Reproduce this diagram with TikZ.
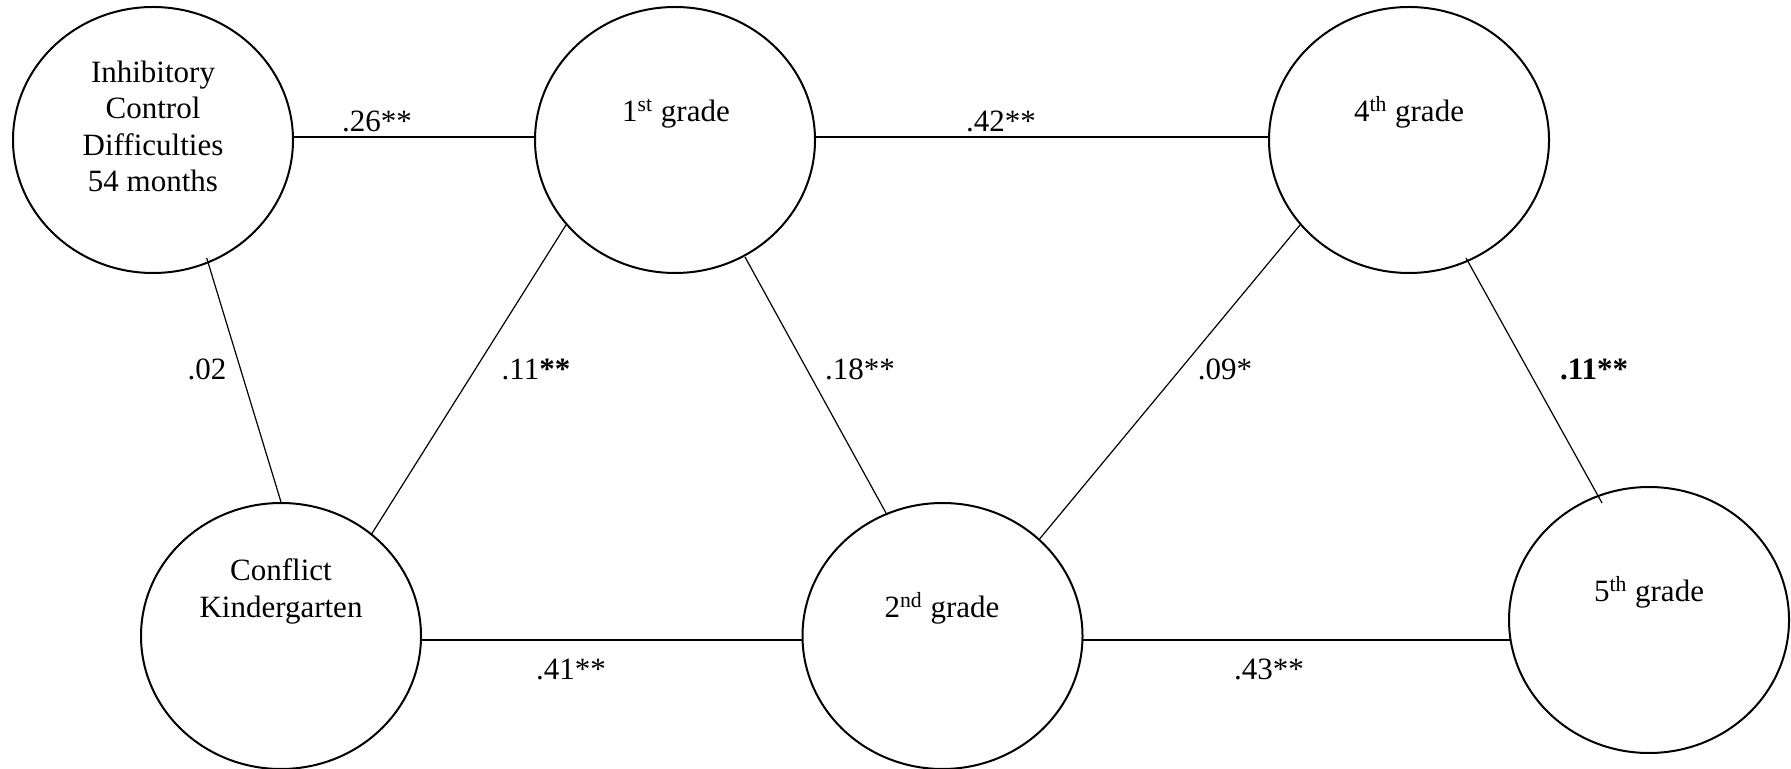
\documentclass[tikz,border=0pt]{standalone}
\usepackage{fontspec}
\setmainfont{Liberation Serif}
\usetikzlibrary{shapes.geometric,calc}
\begin{document}
\begin{tikzpicture}[x=0.5pt,y=-0.5pt,
  var/.style={ellipse,draw,line width=1pt,minimum width=140pt,minimum height=133pt,inner sep=0pt},
  txt/.style={anchor=base,inner sep=0pt,font=\fontsize{15.5}{18.25}\selectfont},
  lab/.style={anchor=base,inner sep=0pt,font=\fontsize{15.5}{18.25}\selectfont},
  hline/.style={line width=1pt},
  dline/.style={line width=0.6pt}]
\useasboundingbox (0,0) rectangle (1791,769);
\fill[white] (0,0) rectangle (1791,769);
% variables
\node[var] (e1) at (153,140) {};
\node[var] (e2) at (675,140) {};
\node[var] (e3) at (1409,140) {};
\node[var] (e4) at (281,636) {};
\node[var] (e5) at (942.5,636) {};
\node[var] (e6) at (1649,620) {};
% texts
\node[txt] (t1) at (153,192) {\begin{tabular}[b]{@{}c@{}}Inhibitory\\Control\\Difficulties\\54 months\end{tabular}};
\node[txt] (t2) at (676,121.5) {1\textsuperscript{st} grade};
\node[txt] (t3) at (1409,121.5) {4\textsuperscript{th} grade};
\node[txt] (t4) at (281,617) {\begin{tabular}[b]{@{}c@{}}Conflict\\Kindergarten\end{tabular}};
\node[txt] (t5) at (942,617.5) {2\textsuperscript{nd} grade};
\node[txt] (t6) at (1649,601.5) {5\textsuperscript{th} grade};
% horizontal connectors
\draw[hline] ($(e1.center)+(140,-3)$) -- ($(e2.center)+(-140,-3)$);
\draw[hline] ($(e2.center)+(140,-3)$) -- ($(e3.center)+(-140,-3)$);
\draw[hline] ($(e4.center)+(140,4)$) -- ($(e5.center)+(-140,4)$);
\draw[hline] ($(e5.center)+(140,4)$) -- ($(e6.center)+(-138.5,20)$);
% diagonal connectors
\draw[dline] ($(e1.center)+(53.7,118)$) -- (e4.north);
\draw[dline] ($(e4.center)+(90,-101)$) -- ($(e2.center)+(-109,85)$);
\draw[dline] ($(e2.center)+(70,117)$) -- ($(e5.center)+(-56.5,-123)$);
\draw[dline] (e5.45) -- ($(e3.center)+(-109,85)$);
\draw[dline] ($(e3.center)+(57,118)$) -- ($(e6.center)+(-47,-117)$);
% labels
\node[lab] (l1) at (377,132) {.26**};
\node[lab] (l2) at (1001,132) {.42**};
\node[lab] (l3) at (571,679) {.41**};
\node[lab] (l4) at (1269,679) {.43**};
\node[lab] (l5) at (207,380) {.02};
\node[lab] (l6) at (536,380) {.11\textbf{**}};
\node[lab] (l7) at (860,380) {.18**};
\node[lab] (l8) at (1225,380) {.09*};
\node[lab] (l9) at (1594,380) {\textbf{.11**}};
\end{tikzpicture}
\end{document}
